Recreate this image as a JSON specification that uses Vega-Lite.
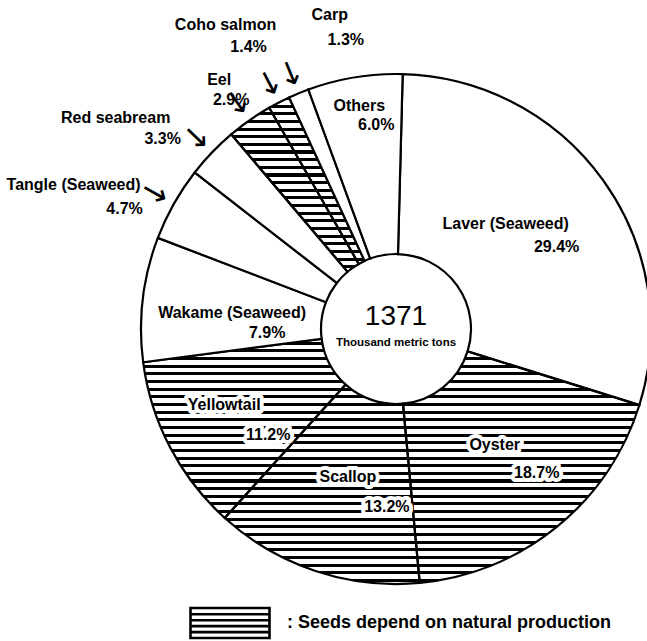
{
  "$schema": "https://vega.github.io/schema/vega-lite/v6.json",
  "width": 492,
  "height": 510,
  "autosize": "none",
  "padding": {"left": 150, "top": 74, "right": 5, "bottom": 57},
  "background": "white",
  "config": {"view": {"stroke": null}},
  "data": {"values": [
    {"name": "Laver (Seaweed)", "share": 0.294, "seeds": "cultured", "order": 1},
    {"name": "Oyster", "share": 0.187, "seeds": "natural", "order": 2},
    {"name": "Scallop", "share": 0.132, "seeds": "natural", "order": 3},
    {"name": "Yellowtail", "share": 0.112, "seeds": "natural", "order": 4},
    {"name": "Wakame (Seaweed)", "share": 0.079, "seeds": "cultured", "order": 5},
    {"name": "Tangle (Seaweed)", "share": 0.047, "seeds": "cultured", "order": 6},
    {"name": "Red seabream", "share": 0.033, "seeds": "cultured", "order": 7},
    {"name": "Eel", "share": 0.029, "seeds": "natural", "order": 8},
    {"name": "Coho salmon", "share": 0.014, "seeds": "natural", "order": 9},
    {"name": "Carp", "share": 0.013, "seeds": "cultured", "order": 10},
    {"name": "Others", "share": 0.06, "seeds": "cultured", "order": 11}
  ]},
  "layer": [
    {
      "mark": {"type": "arc", "radius": 255, "radius2": 75, "fill": {"gradient": "linear", "x1": 0, "y1": 0, "x2": 0, "y2": 1, "stops": [
        {"offset":0,"color":"#000"},{"offset":0.006,"color":"#000"},{"offset":0.006,"color":"#fff"},{"offset":0.015,"color":"#fff"},
        {"offset":0.015,"color":"#000"},{"offset":0.021,"color":"#000"},{"offset":0.021,"color":"#fff"},{"offset":0.03,"color":"#fff"},
        {"offset":0.03,"color":"#000"},{"offset":0.036,"color":"#000"},{"offset":0.036,"color":"#fff"},{"offset":0.045,"color":"#fff"},
        {"offset":0.045,"color":"#000"},{"offset":0.051,"color":"#000"},{"offset":0.051,"color":"#fff"},{"offset":0.06,"color":"#fff"},
        {"offset":0.06,"color":"#000"},{"offset":0.066,"color":"#000"},{"offset":0.066,"color":"#fff"},{"offset":0.075,"color":"#fff"},
        {"offset":0.075,"color":"#000"},{"offset":0.081,"color":"#000"},{"offset":0.081,"color":"#fff"},{"offset":0.09,"color":"#fff"},
        {"offset":0.09,"color":"#000"},{"offset":0.096,"color":"#000"},{"offset":0.096,"color":"#fff"},{"offset":0.105,"color":"#fff"},
        {"offset":0.105,"color":"#000"},{"offset":0.111,"color":"#000"},{"offset":0.111,"color":"#fff"},{"offset":0.12,"color":"#fff"},
        {"offset":0.12,"color":"#000"},{"offset":0.126,"color":"#000"},{"offset":0.126,"color":"#fff"},{"offset":0.135,"color":"#fff"},
        {"offset":0.135,"color":"#000"},{"offset":0.141,"color":"#000"},{"offset":0.141,"color":"#fff"},{"offset":0.15,"color":"#fff"},
        {"offset":0.15,"color":"#000"},{"offset":0.156,"color":"#000"},{"offset":0.156,"color":"#fff"},{"offset":0.165,"color":"#fff"},
        {"offset":0.165,"color":"#000"},{"offset":0.171,"color":"#000"},{"offset":0.171,"color":"#fff"},{"offset":0.18,"color":"#fff"},
        {"offset":0.18,"color":"#000"},{"offset":0.186,"color":"#000"},{"offset":0.186,"color":"#fff"},{"offset":0.195,"color":"#fff"},
        {"offset":0.195,"color":"#000"},{"offset":0.201,"color":"#000"},{"offset":0.201,"color":"#fff"},{"offset":0.21,"color":"#fff"},
        {"offset":0.21,"color":"#000"},{"offset":0.216,"color":"#000"},{"offset":0.216,"color":"#fff"},{"offset":0.225,"color":"#fff"},
        {"offset":0.225,"color":"#000"},{"offset":0.231,"color":"#000"},{"offset":0.231,"color":"#fff"},{"offset":0.24,"color":"#fff"},
        {"offset":0.24,"color":"#000"},{"offset":0.246,"color":"#000"},{"offset":0.246,"color":"#fff"},{"offset":0.255,"color":"#fff"},
        {"offset":0.255,"color":"#000"},{"offset":0.261,"color":"#000"},{"offset":0.261,"color":"#fff"},{"offset":0.27,"color":"#fff"},
        {"offset":0.27,"color":"#000"},{"offset":0.276,"color":"#000"},{"offset":0.276,"color":"#fff"},{"offset":0.285,"color":"#fff"},
        {"offset":0.285,"color":"#000"},{"offset":0.291,"color":"#000"},{"offset":0.291,"color":"#fff"},{"offset":0.3,"color":"#fff"},
        {"offset":0.3,"color":"#000"},{"offset":0.306,"color":"#000"},{"offset":0.306,"color":"#fff"},{"offset":0.315,"color":"#fff"},
        {"offset":0.315,"color":"#000"},{"offset":0.321,"color":"#000"},{"offset":0.321,"color":"#fff"},{"offset":0.33,"color":"#fff"},
        {"offset":0.33,"color":"#000"},{"offset":0.336,"color":"#000"},{"offset":0.336,"color":"#fff"},{"offset":0.345,"color":"#fff"},
        {"offset":0.345,"color":"#000"},{"offset":0.351,"color":"#000"},{"offset":0.351,"color":"#fff"},{"offset":0.36,"color":"#fff"},
        {"offset":0.36,"color":"#000"},{"offset":0.366,"color":"#000"},{"offset":0.366,"color":"#fff"},{"offset":0.375,"color":"#fff"},
        {"offset":0.375,"color":"#000"},{"offset":0.381,"color":"#000"},{"offset":0.381,"color":"#fff"},{"offset":0.39,"color":"#fff"},
        {"offset":0.39,"color":"#000"},{"offset":0.396,"color":"#000"},{"offset":0.396,"color":"#fff"},{"offset":0.405,"color":"#fff"},
        {"offset":0.405,"color":"#000"},{"offset":0.411,"color":"#000"},{"offset":0.411,"color":"#fff"},{"offset":0.42,"color":"#fff"},
        {"offset":0.42,"color":"#000"},{"offset":0.426,"color":"#000"},{"offset":0.426,"color":"#fff"},{"offset":0.435,"color":"#fff"},
        {"offset":0.435,"color":"#000"},{"offset":0.441,"color":"#000"},{"offset":0.441,"color":"#fff"},{"offset":0.45,"color":"#fff"},
        {"offset":0.45,"color":"#000"},{"offset":0.456,"color":"#000"},{"offset":0.456,"color":"#fff"},{"offset":0.465,"color":"#fff"},
        {"offset":0.465,"color":"#000"},{"offset":0.471,"color":"#000"},{"offset":0.471,"color":"#fff"},{"offset":0.48,"color":"#fff"},
        {"offset":0.48,"color":"#000"},{"offset":0.486,"color":"#000"},{"offset":0.486,"color":"#fff"},{"offset":0.495,"color":"#fff"},
        {"offset":0.495,"color":"#000"},{"offset":0.501,"color":"#000"},{"offset":0.501,"color":"#fff"},{"offset":0.51,"color":"#fff"},
        {"offset":0.51,"color":"#000"},{"offset":0.516,"color":"#000"},{"offset":0.516,"color":"#fff"},{"offset":0.525,"color":"#fff"},
        {"offset":0.525,"color":"#000"},{"offset":0.531,"color":"#000"},{"offset":0.531,"color":"#fff"},{"offset":0.54,"color":"#fff"},
        {"offset":0.54,"color":"#000"},{"offset":0.546,"color":"#000"},{"offset":0.546,"color":"#fff"},{"offset":0.555,"color":"#fff"},
        {"offset":0.555,"color":"#000"},{"offset":0.561,"color":"#000"},{"offset":0.561,"color":"#fff"},{"offset":0.57,"color":"#fff"},
        {"offset":0.57,"color":"#000"},{"offset":0.576,"color":"#000"},{"offset":0.576,"color":"#fff"},{"offset":0.585,"color":"#fff"},
        {"offset":0.585,"color":"#000"},{"offset":0.591,"color":"#000"},{"offset":0.591,"color":"#fff"},{"offset":0.6,"color":"#fff"},
        {"offset":0.6,"color":"#000"},{"offset":0.606,"color":"#000"},{"offset":0.606,"color":"#fff"},{"offset":0.615,"color":"#fff"},
        {"offset":0.615,"color":"#000"},{"offset":0.621,"color":"#000"},{"offset":0.621,"color":"#fff"},{"offset":0.63,"color":"#fff"},
        {"offset":0.63,"color":"#000"},{"offset":0.636,"color":"#000"},{"offset":0.636,"color":"#fff"},{"offset":0.645,"color":"#fff"},
        {"offset":0.645,"color":"#000"},{"offset":0.651,"color":"#000"},{"offset":0.651,"color":"#fff"},{"offset":0.66,"color":"#fff"},
        {"offset":0.66,"color":"#000"},{"offset":0.666,"color":"#000"},{"offset":0.666,"color":"#fff"},{"offset":0.675,"color":"#fff"},
        {"offset":0.675,"color":"#000"},{"offset":0.681,"color":"#000"},{"offset":0.681,"color":"#fff"},{"offset":0.69,"color":"#fff"},
        {"offset":0.69,"color":"#000"},{"offset":0.696,"color":"#000"},{"offset":0.696,"color":"#fff"},{"offset":0.705,"color":"#fff"},
        {"offset":0.705,"color":"#000"},{"offset":0.711,"color":"#000"},{"offset":0.711,"color":"#fff"},{"offset":0.72,"color":"#fff"},
        {"offset":0.72,"color":"#000"},{"offset":0.726,"color":"#000"},{"offset":0.726,"color":"#fff"},{"offset":0.735,"color":"#fff"},
        {"offset":0.735,"color":"#000"},{"offset":0.741,"color":"#000"},{"offset":0.741,"color":"#fff"},{"offset":0.75,"color":"#fff"},
        {"offset":0.75,"color":"#000"},{"offset":0.756,"color":"#000"},{"offset":0.756,"color":"#fff"},{"offset":0.765,"color":"#fff"},
        {"offset":0.765,"color":"#000"},{"offset":0.771,"color":"#000"},{"offset":0.771,"color":"#fff"},{"offset":0.78,"color":"#fff"},
        {"offset":0.78,"color":"#000"},{"offset":0.786,"color":"#000"},{"offset":0.786,"color":"#fff"},{"offset":0.795,"color":"#fff"},
        {"offset":0.795,"color":"#000"},{"offset":0.801,"color":"#000"},{"offset":0.801,"color":"#fff"},{"offset":0.81,"color":"#fff"},
        {"offset":0.81,"color":"#000"},{"offset":0.816,"color":"#000"},{"offset":0.816,"color":"#fff"},{"offset":0.825,"color":"#fff"},
        {"offset":0.825,"color":"#000"},{"offset":0.831,"color":"#000"},{"offset":0.831,"color":"#fff"},{"offset":0.84,"color":"#fff"},
        {"offset":0.84,"color":"#000"},{"offset":0.846,"color":"#000"},{"offset":0.846,"color":"#fff"},{"offset":0.855,"color":"#fff"},
        {"offset":0.855,"color":"#000"},{"offset":0.861,"color":"#000"},{"offset":0.861,"color":"#fff"},{"offset":0.87,"color":"#fff"},
        {"offset":0.87,"color":"#000"},{"offset":0.876,"color":"#000"},{"offset":0.876,"color":"#fff"},{"offset":0.885,"color":"#fff"},
        {"offset":0.885,"color":"#000"},{"offset":0.891,"color":"#000"},{"offset":0.891,"color":"#fff"},{"offset":0.9,"color":"#fff"},
        {"offset":0.9,"color":"#000"},{"offset":0.906,"color":"#000"},{"offset":0.906,"color":"#fff"},{"offset":0.915,"color":"#fff"},
        {"offset":0.915,"color":"#000"},{"offset":0.921,"color":"#000"},{"offset":0.921,"color":"#fff"},{"offset":0.93,"color":"#fff"},
        {"offset":0.93,"color":"#000"},{"offset":0.936,"color":"#000"},{"offset":0.936,"color":"#fff"},{"offset":0.945,"color":"#fff"},
        {"offset":0.945,"color":"#000"},{"offset":0.951,"color":"#000"},{"offset":0.951,"color":"#fff"},{"offset":0.96,"color":"#fff"},
        {"offset":0.96,"color":"#000"},{"offset":0.966,"color":"#000"},{"offset":0.966,"color":"#fff"},{"offset":0.975,"color":"#fff"},
        {"offset":0.975,"color":"#000"},{"offset":0.981,"color":"#000"},{"offset":0.981,"color":"#fff"},{"offset":0.99,"color":"#fff"},
        {"offset":0.99,"color":"#000"},{"offset":0.996,"color":"#000"},{"offset":0.996,"color":"#fff"},{"offset":1,"color":"#fff"}
      ]}},
      "encoding": {
        "theta": {"aggregate": "sum", "field": "share", "type": "quantitative", "stack": true, "scale": {"domain": [0, 1], "range": [0.0262, 6.3094]}}
      }
    },
    {
      "mark": {"type": "arc", "radius": 255, "radius2": 75, "stroke": "#000", "strokeWidth": 2.2},
      "encoding": {
        "theta": {"field": "share", "type": "quantitative", "stack": true},
        "order": {"field": "order", "type": "quantitative"},
        "fill": {
          "field": "seeds", "type": "nominal",
          "scale": {"domain": ["natural", "cultured"], "range": ["rgba(255,255,255,0)", "#ffffff"]},
          "legend": {
            "orient": "none", "legendX": 39, "legendY": 508, "values": ["natural"], "title": null,
            "labelExpr": "': Seeds depend on natural production'",
            "labelFont": "Liberation Sans", "labelFontSize": 18, "labelFontWeight": "bold", "labelColor": "#000",
            "labelOffset": 16, "labelLimit": 0, "padding": 0,
            "symbolType": "M-1,-0.38H1V0.38H-1Z M-1,-0.22H1 M-1,-0.07H1 M-1,0.08H1 M-1,0.23H1",
            "symbolSize": 6241, "symbolStrokeWidth": 2.6, "symbolStrokeColor": "#000", "symbolOpacity": 1
          }
        }
      }
    },
    {
      "mark": {"type": "text", "font": "Liberation Sans", "fontSize": 16, "fontWeight": "bold", "color": "#fff", "stroke": "#fff", "strokeWidth": 8, "strokeJoin": "round",
        "radius": {"expr": "datum.share < 0.05 ? 315 : datum.share < 0.07 ? 215 : 168"},
        "dx": {"expr": "datum.name === 'Carp' ? 54 : datum.name === 'Coho salmon' ? -26 : datum.name === 'Eel' ? 4 : datum.name === 'Red seabream' ? -53 : datum.name === 'Tangle (Seaweed)' ? -48 : datum.name === 'Others' ? -2 : datum.name === 'Laver (Seaweed)' ? -27 : datum.name === 'Oyster' ? -7 : datum.name === 'Scallop' ? 5 : datum.name === 'Yellowtail' ? -23 : 3"},
        "dy": {"expr": "datum.name === 'Carp' ? -23 : datum.name === 'Coho salmon' ? -24 : datum.name === 'Eel' ? 9 : datum.name === 'Red seabream' ? 7 : datum.name === 'Tangle (Seaweed)' ? 11 : datum.name === 'Others' ? -11 : datum.name === 'Laver (Seaweed)' ? -7 : datum.name === 'Oyster' ? -15 : datum.name === 'Scallop' ? -11 : datum.name === 'Yellowtail' ? -2 : 4"}},
      "encoding": {
        "theta": {"field": "share", "type": "quantitative", "stack": true},
        "order": {"field": "order", "type": "quantitative"},
        "text": {"field": "name", "type": "nominal"}
      }
    },
    {
      "mark": {"type": "text", "font": "Liberation Sans", "fontSize": 16, "fontWeight": "bold", "color": "#000",
        "radius": {"expr": "datum.share < 0.05 ? 315 : datum.share < 0.07 ? 215 : 168"},
        "dx": {"expr": "datum.name === 'Carp' ? 54 : datum.name === 'Coho salmon' ? -26 : datum.name === 'Eel' ? 4 : datum.name === 'Red seabream' ? -53 : datum.name === 'Tangle (Seaweed)' ? -48 : datum.name === 'Others' ? -2 : datum.name === 'Laver (Seaweed)' ? -27 : datum.name === 'Oyster' ? -7 : datum.name === 'Scallop' ? 5 : datum.name === 'Yellowtail' ? -23 : 3"},
        "dy": {"expr": "datum.name === 'Carp' ? -23 : datum.name === 'Coho salmon' ? -24 : datum.name === 'Eel' ? 9 : datum.name === 'Red seabream' ? 7 : datum.name === 'Tangle (Seaweed)' ? 11 : datum.name === 'Others' ? -11 : datum.name === 'Laver (Seaweed)' ? -7 : datum.name === 'Oyster' ? -15 : datum.name === 'Scallop' ? -11 : datum.name === 'Yellowtail' ? -2 : 4"}},
      "encoding": {
        "theta": {"field": "share", "type": "quantitative", "stack": true},
        "order": {"field": "order", "type": "quantitative"},
        "text": {"field": "name", "type": "nominal"}
      }
    },
    {
      "mark": {"type": "text", "font": "Liberation Sans", "fontSize": 16, "fontWeight": "bold", "color": "#fff", "stroke": "#fff", "strokeWidth": 8, "strokeJoin": "round",
        "radius": {"expr": "datum.share < 0.05 ? 315 : datum.share < 0.07 ? 215 : 168"},
        "dx": {"expr": "datum.name === 'Carp' ? 70 : datum.name === 'Coho salmon' ? -3 : datum.name === 'Eel' ? 16 : datum.name === 'Red seabream' ? -6 : datum.name === 'Tangle (Seaweed)' ? 3 : datum.name === 'Others' ? 15 : datum.name === 'Laver (Seaweed)' ? 24 : datum.name === 'Oyster' ? 35 : datum.name === 'Scallop' ? 44 : datum.name === 'Yellowtail' ? 21 : 38"},
        "dy": {"expr": "datum.name === 'Carp' ? 2 : datum.name === 'Coho salmon' ? -2 : datum.name === 'Eel' ? 29 : datum.name === 'Red seabream' ? 28 : datum.name === 'Tangle (Seaweed)' ? 35 : datum.name === 'Others' ? 8 : datum.name === 'Laver (Seaweed)' ? 16 : datum.name === 'Oyster' ? 13 : datum.name === 'Scallop' ? 19 : datum.name === 'Yellowtail' ? 28 : 24"}},
      "encoding": {
        "theta": {"field": "share", "type": "quantitative", "stack": true},
        "order": {"field": "order", "type": "quantitative"},
        "text": {"field": "share", "type": "quantitative", "format": ".1%"}
      }
    },
    {
      "mark": {"type": "text", "font": "Liberation Sans", "fontSize": 16, "fontWeight": "bold", "color": "#000",
        "radius": {"expr": "datum.share < 0.05 ? 315 : datum.share < 0.07 ? 215 : 168"},
        "dx": {"expr": "datum.name === 'Carp' ? 70 : datum.name === 'Coho salmon' ? -3 : datum.name === 'Eel' ? 16 : datum.name === 'Red seabream' ? -6 : datum.name === 'Tangle (Seaweed)' ? 3 : datum.name === 'Others' ? 15 : datum.name === 'Laver (Seaweed)' ? 24 : datum.name === 'Oyster' ? 35 : datum.name === 'Scallop' ? 44 : datum.name === 'Yellowtail' ? 21 : 38"},
        "dy": {"expr": "datum.name === 'Carp' ? 2 : datum.name === 'Coho salmon' ? -2 : datum.name === 'Eel' ? 29 : datum.name === 'Red seabream' ? 28 : datum.name === 'Tangle (Seaweed)' ? 35 : datum.name === 'Others' ? 8 : datum.name === 'Laver (Seaweed)' ? 16 : datum.name === 'Oyster' ? 13 : datum.name === 'Scallop' ? 19 : datum.name === 'Yellowtail' ? 28 : 24"}},
      "encoding": {
        "theta": {"field": "share", "type": "quantitative", "stack": true},
        "order": {"field": "order", "type": "quantitative"},
        "text": {"field": "share", "type": "quantitative", "format": ".1%"}
      }
    },
    {
      "mark": {"type": "text", "font": "DejaVu Sans", "fontSize": 32, "color": "#000", "radius": 277,
        "angle": {"expr": "(datum.share_start + datum.share_end) * 180 + 91.5"}},
      "encoding": {
        "theta": {"field": "share", "type": "quantitative", "stack": true},
        "order": {"field": "order", "type": "quantitative"},
        "text": {"condition": {"test": "datum.share < 0.05", "value": "→"}, "value": ""}
      }
    },
    {
      "data": {"values": [{"total": 1371, "unit": "Thousand metric tons"}]},
      "mark": {"type": "text", "font": "Liberation Sans", "fontSize": 28, "color": "#000", "dy": -12},
      "encoding": {"text": {"field": "total", "type": "quantitative", "format": "d"}}
    },
    {
      "data": {"values": [{"total": 1371, "unit": "Thousand metric tons"}]},
      "mark": {"type": "text", "font": "Liberation Sans", "fontSize": 11.5, "fontWeight": "bold", "color": "#000", "dy": 14},
      "encoding": {"text": {"field": "unit", "type": "nominal"}}
    }
  ]
}
